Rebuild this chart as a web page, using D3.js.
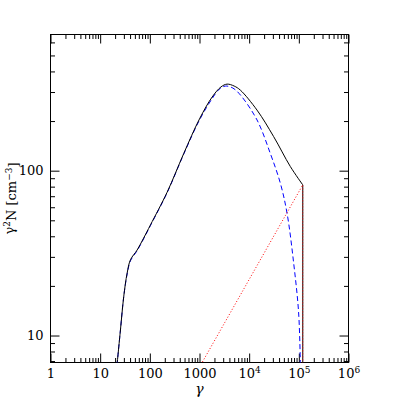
<!DOCTYPE html>
<html>
<head>
<meta charset="utf-8">
<script src="https://cdn.jsdelivr.net/npm/d3@7"></script>
<style>
  body { margin: 0; background: #fff; }
  text { font-family: "DejaVu Serif", serif; }
</style>
</head>
<body>
<svg id="chart"></svg>
<script>
// solid black curve (total)
let totalGamma = [21.8, 25.6, 29.8, 34.9, 40.7, 55.5, 75, 103, 223, 481, 1000, 1800, 2700, 3590, 5000, 6650, 14400, 31100, 67400, 120000];
let totalN = [6.6, 10.8, 17.2, 23.9, 28.8, 33, 39, 46.9, 74, 127, 206, 280, 322, 335, 326, 308, 233, 161, 106, 82];

// dashed blue curve
let dashGamma = [21.8, 25.6, 29.8, 34.9, 40.7, 55.5, 75, 103, 223, 481, 1000, 1800, 2500, 3320, 4700, 6650, 14400, 26700, 42400, 57900, 78700, 99100, 107500];
let dashN = [6.6, 10.8, 17.2, 23.6, 28.4, 32.7, 38.6, 46.5, 73.5, 126, 203, 274, 312, 326, 317, 288, 203, 127, 84, 55.2, 27.5, 13.7, 6.5];

// dotted red power law with cutoff
let dotGamma = [1000, 120000, 120000];
let dotN = [6.43, 82, 1];

let xTicksMajor = [1, 10, 100, 1000, 1e4, 1e5, 1e6];
let yTicksMajor = [10, 100];

function minorTicks(lo, hi) {
  let out = [];
  for (let d = lo; d < hi; d *= 10) {
    for (let k = 2; k <= 9; k++) out.push(k * d);
  }
  return out;
}

let w = 407, h = 407;
let pLeft = 50.5, pRight = 348.5, pTop = 34.5, pBottom = 362.5;

let svg = d3.select('#chart')
  .attr('width', w)
  .attr('height', h);

let xScale = d3.scaleLog()
  .domain([1, 1e6])
  .range([pLeft, pRight]);

let yScale = d3.scaleLog()
  .domain([6.86, 670])
  .range([pBottom, pTop]);

let xMinor = minorTicks(1, 1e6);
let yMinor = minorTicks(1, 1000).filter((v) => v >= 6.86 && v <= 670);

let noLabel = () => '';

// bottom axis
svg.append('g')
  .attr('transform', `translate(0, ${pBottom})`)
  .call(d3.axisBottom(xScale).tickValues(xMinor).tickSize(-4.5).tickSizeOuter(0).tickFormat(noLabel));
let xAxis = svg.append('g')
  .attr('class', 'xaxis')
  .attr('transform', `translate(0, ${pBottom})`)
  .call(d3.axisBottom(xScale).tickValues(xTicksMajor).tickSize(-9).tickSizeOuter(0).tickPadding(6));

xAxis.selectAll('text')
  .attr('font-size', 13)
  .each(function(d) {
    let t = d3.select(this);
    let e = Math.round(Math.log10(d));
    t.text('');
    if (e <= 3) {
      t.text(String(d));
    } else {
      t.append('tspan').text('10');
      t.append('tspan').attr('dy', '-0.5em').attr('font-size', 9).text(e);
    }
  });

// top axis
svg.append('g')
  .attr('transform', `translate(0, ${pTop})`)
  .call(d3.axisTop(xScale).tickValues(xMinor).tickSize(-4.5).tickSizeOuter(0).tickFormat(noLabel));
svg.append('g')
  .attr('transform', `translate(0, ${pTop})`)
  .call(d3.axisTop(xScale).tickValues(xTicksMajor).tickSize(-9).tickSizeOuter(0).tickFormat(noLabel));

// left axis
svg.append('g')
  .attr('transform', `translate(${pLeft}, 0)`)
  .call(d3.axisLeft(yScale).tickValues(yMinor).tickSize(-4.5).tickSizeOuter(0).tickFormat(noLabel));
svg.append('g')
  .attr('transform', `translate(${pLeft}, 0)`)
  .call(d3.axisLeft(yScale).tickValues(yTicksMajor).tickSize(-9).tickSizeOuter(0).tickPadding(7).tickFormat(d3.format('d')))
  .selectAll('text').attr('font-size', 13);

// right axis
svg.append('g')
  .attr('transform', `translate(${pRight}, 0)`)
  .call(d3.axisRight(yScale).tickValues(yMinor).tickSize(-4.5).tickSizeOuter(0).tickFormat(noLabel));
svg.append('g')
  .attr('transform', `translate(${pRight}, 0)`)
  .call(d3.axisRight(yScale).tickValues(yTicksMajor).tickSize(-9).tickSizeOuter(0).tickFormat(noLabel));

svg.selectAll('.domain').remove();
svg.selectAll('.tick line').attr('stroke', '#000');
svg.selectAll('.tick text').attr('fill', '#000').attr('font-family', '"DejaVu Serif", serif');

// frame
svg.append('rect')
  .attr('x', pLeft)
  .attr('y', pTop)
  .attr('width', pRight - pLeft)
  .attr('height', pBottom - pTop)
  .attr('fill', 'none')
  .attr('stroke', '#000')
  .attr('stroke-width', 1);

svg.append('clipPath')
  .attr('id', 'plot')
  .append('rect')
  .attr('x', pLeft)
  .attr('y', pTop)
  .attr('width', pRight - pLeft)
  .attr('height', pBottom - pTop);

let plot = svg.append('g').attr('clip-path', 'url(#plot)');

let smooth = d3.line()
  .x((d) => xScale(d[0]))
  .y((d) => yScale(d[1]))
  .curve(d3.curveCatmullRom.alpha(0.5));

let straight = d3.line()
  .x((d) => xScale(d[0]))
  .y((d) => yScale(d[1]));

let totalPts = totalGamma.map((g, i) => [g, totalN[i]]);
let dashPts = dashGamma.map((g, i) => [g, dashN[i]]);
let dotPts = dotGamma.map((g, i) => [g, dotN[i]]);

plot.append('path')
  .attr('d', smooth(dashPts))
  .attr('fill', 'none')
  .attr('stroke', '#0000ff')
  .attr('stroke-width', 1)
  .attr('stroke-dasharray', '5,3');

plot.append('path')
  .attr('d', smooth(totalPts) + 'L' + xScale(totalGamma[totalGamma.length - 1]) + ',' + (pBottom + 5))
  .attr('fill', 'none')
  .attr('stroke', '#000')
  .attr('stroke-width', 1);

plot.append('path')
  .attr('d', straight(dotPts))
  .attr('fill', 'none')
  .attr('stroke', '#ff0000')
  .attr('stroke-width', 1)
  .attr('stroke-dasharray', '1,2');

// axis titles
svg.append('text')
  .attr('x', (pLeft + pRight) / 2)
  .attr('y', 394)
  .attr('text-anchor', 'middle')
  .attr('font-size', 14)
  .attr('font-style', 'italic')
  .text('γ');

let yTitle = svg.append('text')
  .attr('transform', `translate(14, ${(pTop + pBottom) / 2}) rotate(-90)`)
  .attr('text-anchor', 'middle')
  .attr('font-size', 13);
yTitle.append('tspan').text('γ');
yTitle.append('tspan').attr('dy', '-0.45em').attr('font-size', 9).text('2');
yTitle.append('tspan').attr('dy', '0.45em').text('N [cm');
yTitle.append('tspan').attr('dy', '-0.45em').attr('font-size', 9).text('−3');
yTitle.append('tspan').attr('dy', '0.45em').text(']');
</script>
</body>
</html>
